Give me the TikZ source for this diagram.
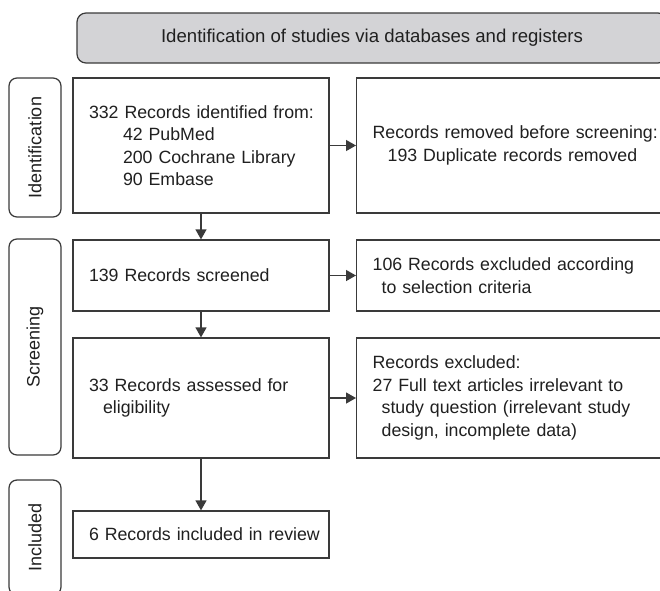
\documentclass[tikz,border=0pt]{standalone}
\usepackage{fontspec}
\setmainfont{Liberation Sans}
\usetikzlibrary{arrows.meta}
\definecolor{edge}{HTML}{3A3A3A}
\definecolor{ink}{HTML}{202020}
\definecolor{headfill}{HTML}{D3D3D6}
\tikzset{
  every node/.style={text=ink},
  bodyfont/.style={font=\fontsize{17.75}{22.5}\selectfont},
  flowbox/.style={draw=edge, line width=1.25pt, fill=white, bodyfont,
    align=left, inner xsep=16pt, inner ysep=0pt},
  leftbox/.style={flowbox, text width=224pt, minimum width=256pt},
  rightbox/.style={flowbox, text width=298pt, minimum width=330pt, anchor=west},
  phase/.style={draw=edge, line width=1.25pt, fill=white, rounded corners=8pt,
    rotate=90, minimum height=52pt, inner sep=0pt,
    font=\fontsize{18}{22}\selectfont},
  headbox/.style={draw=edge, line width=1.25pt, fill=headfill, rounded corners=9pt,
    minimum width=590pt, minimum height=50pt, inner sep=0pt,
    font=\fontsize{18.6}{22}\selectfont},
  flow/.style={draw=edge, line width=1.25pt, -{Triangle[length=10pt,width=11pt]}}
}
\begin{document}
\begin{tikzpicture}[x=1pt, y=-1pt]
  \useasboundingbox (0,0) rectangle (660,590);
  \clip (0,0) rectangle (660,590);

  % header
  \node[headbox] (head) at (372,38) {Identification of studies via databases and registers};

  % phase labels on the left
  \node[phase, minimum width=139pt] (pid) at (35,147.5) {Identification};
  \node[phase, minimum width=216pt] (psc) at (35,347) {Screening};
  \node[phase, minimum width=115pt] (pin) at (35,537.5) {Included};

  % main column
  \node[leftbox, minimum height=135pt] (ident) at (201,145.5)
    {\mbox{332 Records identified from:}\\
     \hspace*{34pt}42 PubMed\\
     \hspace*{34pt}200 Cochrane Library\\
     \hspace*{34pt}90 Embase};
  \node[leftbox, minimum height=71pt] (screen) at (201,275.5)
    {139 Records screened};
  \node[leftbox, minimum height=120pt] (elig) at (201,398)
    {33 Records assessed for\\
     \hspace*{14pt}eligibility};
  \node[leftbox, minimum height=47pt] (incl) at (201,534.5)
    {\mbox{6 Records included in review}};

  % exclusion column
  \node[rightbox, minimum height=135pt] (dup) at (356,145.5)
    {Records removed before screening:\\
     \hspace*{15pt}193 Duplicate records removed};
  \node[rightbox, minimum height=71pt] (excl) at (356,275.5)
    {106 Records excluded according\\
     \hspace*{9pt}to selection criteria};
  \node[rightbox, minimum height=120pt] (full) at (356,398)
    {Records excluded:\\
     27 Full text articles irrelevant to\\
     \hspace*{9pt}study question (irrelevant study\\
     \hspace*{9pt}design, incomplete data)};

  % connectors
  \draw[flow] (ident.south) -- (screen.north);
  \draw[flow] (screen.south) -- (elig.north);
  \draw[flow] (elig.south) -- (incl.north);
  \draw[flow] (ident.east) -- (dup.west);
  \draw[flow] (screen.east) -- (excl.west);
  \draw[flow] (elig.east) -- (full.west);
\end{tikzpicture}
\end{document}
